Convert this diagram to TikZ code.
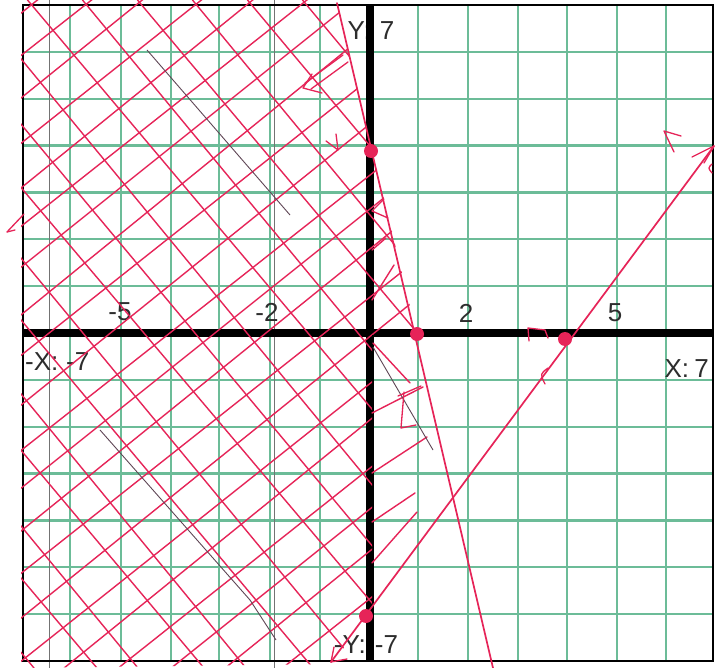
\documentclass[tikz,border=0pt]{standalone}
\usepackage{fontspec}
\setmainfont{Liberation Sans}
\definecolor{gridgreen}{RGB}{108,188,152}
\definecolor{pen}{RGB}{230,36,88}
\definecolor{pencil}{RGB}{95,70,85}
\definecolor{ink}{RGB}{45,45,45}
\tikzset{
 gridln/.style={gridgreen, line width=2.4pt},
 frameln/.style={black, line width=2pt},
 axisln/.style={black, line width=8pt},
 artifact/.style={black!55, line width=0.7pt},
 mainln/.style={pen, line width=1.7pt, line cap=round},
 hatch/.style={pen, line width=1.4pt, line cap=round},
 pencilln/.style={pencil, line width=0.9pt},
 penmark/.style={pen, line width=1.3pt, line cap=round, line join=round},
 lbl/.style={text=ink, font=\fontsize{26}{26}\selectfont, inner sep=0pt},
 dot/.style={pen},
}
\begin{document}
\begin{tikzpicture}[x=1pt,y=-1pt]
\useasboundingbox (0,0) rectangle (718,668);
\fill[white] (0,0) rectangle (718,668);
% grid
\foreach \gx in {70,121,171,219,270,320,418,468,518,567,617,666}
  \draw[gridln] (\gx,5) -- (\gx,661);
\foreach \j in {1,...,13}
  \draw[gridln] (23,{5+46.857*\j}) -- (713,{5+46.857*\j});
\draw[artifact] (49,0) -- (49,668);
\draw[artifact] (274,0) -- (274,668);
\draw[frameln] (23,5) rectangle (713,661);
% labels
\node[lbl] (ly) at (371,31) {Y:\hspace{0.35em}7};
\node[lbl, anchor=west] (lxm) at (25,362) {-X:\hspace{0.3em}-7};
\node[lbl, anchor=east] (lx) at (709,369) {X:\hspace{0.2em}7};
\node[lbl] (lym) at (366,645) {-Y:\hspace{0.35em}-7};
\node[lbl] (t1) at (120,312) {-5};
\node[lbl] (t2) at (267,312) {-2};
\node[lbl] (t3) at (466,313) {2};
\node[lbl] (t4) at (615,313) {5};
% axes
\draw[axisln] (23,333) -- (713,333);
\draw[axisln] (370,5) -- (370,661);
% hatching
\begin{scope}
\clip (21,0) -- (336,0) -- (417,335) -- (372,335) -- (372,612) -- (331,664) -- (21,668) -- cycle;
\foreach \c/\d in {30/0,72/10,115/-6,160/4,205/-8,243/6,284/0,332/-10,372/5,422/-4,467/8,505/0,548/-6,590/6,635/-5,678/3,720/-8,762/4,805/0,850/-6,892/5,935/0}
  \draw[hatch] (0,\c) -- (720,{\c-576+\d});
\foreach \x/\d in {-245/0,-190/8,-135/-6,-80/5,-25/-8,30/4,85/-4,140/8,195/0,250/-6,305/6,360/-4,415/5,470/-5,525/4,580/0}
  \draw[hatch] ({\x-277.5},0) -- ({\x+279+\d},668);
\end{scope}
% short strokes right of the y axis
\draw[hatch] (372,413) -- (423,387);
\draw[hatch] (372,473) -- (427,437);
\draw[hatch] (372,522) -- (415,493);
\draw[hatch] (372,563) -- (417,512);
\draw[hatch] (372,300) -- (394,265);
\draw[hatch] (372,250) -- (386,238);
\draw[hatch] (373,343) -- (410,383);
% pencil strokes
\draw[pencilln] (147,50) -- (290,215);
\draw[pencilln] (100,430) -- (250,600);
\draw[pencilln] (373,347) -- (433,450);
\draw[pencilln] (250,600) -- (276,640);
% main lines
\coordinate (s1) at (337,3);
\coordinate (s2) at (493,668);
\coordinate (d1) at (331,662);
\coordinate (d2) at (714,146);
\draw[mainln] (s1) -- (s2);
\draw[mainln] (d1) -- (d2);
% dots
\coordinate (p1) at (371,151);
\coordinate (p2) at (417,334);
\coordinate (p3) at (565,339);
\coordinate (p4) at (366,616);
\foreach \p in {p1,p2,p3,p4} \fill[dot] (\p) circle (7);
% hand-drawn arrow marks
\draw[penmark] (343,55) -- (305,83);
\draw[penmark] (348,62) -- (311,89);
\draw[penmark] (312,74) -- (303,88) -- (322,93);
\draw[penmark] (384,199) -- (372,211) -- (388,218);
\draw[penmark] (326,141) -- (338,150) -- (336,134);
\draw[penmark] (398,396) -- (421,386);
\draw[penmark] (404,392) -- (401,428) -- (416,425);
\draw[penmark] (529,341) -- (528,328) -- (545,330) -- (548,338);
\draw[penmark] (548,368) .. controls (540,374) .. (545,384);
\draw[penmark] (681,136) -- (664,131) -- (674,152);
\draw[penmark] (692,157) -- (714,146) -- (704,163);
\draw[penmark] (712,164) .. controls (708,168) .. (712,173);
\draw[penmark] (d1) -- (334,647);
\draw[penmark] (d1) -- (347,659);
\draw[penmark] (24,214) -- (7,232);
\draw[penmark] (7,232) -- (15,230);
\end{tikzpicture}
\end{document}
